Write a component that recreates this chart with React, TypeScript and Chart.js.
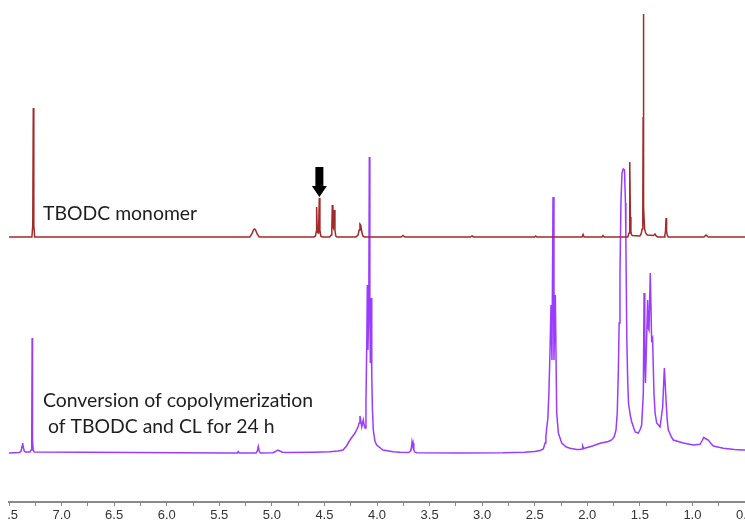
import React, { useEffect, useRef } from "react";
import { Chart, registerables } from "chart.js";

Chart.register(...registerables);

// x axis (chemical shift, ppm, reversed)
const axisMin = 0.5;
const axisMax = 7.5;
const tickStep = 0.25;

// vertical scale (arbitrary intensity units)
const yMax = 494;
const monomerOffset = 265;
const copolyOffset = 49;

// TBODC monomer spectrum
const monomerPpm = [
  7.5, 7.282, 7.274, 7.269, 7.264, 7.256,
  5.21, 5.19, 5.175, 5.165, 5.155, 5.14, 5.12,
  4.6, 4.585, 4.579, 4.574, 4.568, 4.561, 4.555, 4.549, 4.543, 4.535, 4.52,
  4.45, 4.436, 4.43, 4.425, 4.419, 4.415, 4.406, 4.4, 4.392, 4.38,
  4.2, 4.18, 4.17, 4.162, 4.155, 4.146, 4.135, 4.12,
  3.77, 3.752, 3.735,
  3.11, 3.096, 3.08,
  2.5, 2.49, 2.48,
  2.05, 2.04, 2.03,
  1.86, 1.85, 1.84,
  1.615, 1.603, 1.598, 1.594, 1.59, 1.585, 1.58, 1.572,
  1.5, 1.488, 1.478, 1.472, 1.469, 1.467, 1.465, 1.462, 1.455, 1.445, 1.43,
  1.37, 1.356, 1.345, 1.33,
  1.27, 1.262, 1.256, 1.251, 1.246, 1.24, 1.23,
  0.89, 0.871, 0.85,
  0.5,
];
const monomerInt = [
  0, 0, 12, 129, 12, 0,
  0, 3, 7, 8, 7, 3, 0,
  0, 1, 5, 30, 6, 4, 8, 39, 7, 1, 0,
  0, 2, 8, 32, 10, 9, 27, 7, 1, 0,
  0, 2, 7, 13, 12, 6, 1, 0,
  0, 1.5, 0,
  0, 1, 0,
  0, 1, 0,
  0, 2.5, 0,
  0, 1.5, 0,
  0, 4, 20, 75, 20, 5, 2.5, 1.5,
  1, 3, 8, 30, 120, 223, 120, 30, 8, 4, 2,
  1.5, 3, 1, 0,
  0, 2, 6, 19, 6, 2, 0,
  0, 2, 0,
  0,
];

// copolymerization (24 h) spectrum
const copolyPpm = [
  7.5, 7.4, 7.385, 7.375, 7.37, 7.364, 7.355, 7.345, 7.3, 7.29, 7.284, 7.28, 7.276, 7.27, 7.26,
  5.4, 5.33, 5.32, 5.31,
  5.15, 5.138, 5.129, 5.12, 5.11,
  4.99, 4.965, 4.945, 4.925, 4.9, 4.85,
  4.6, 4.45, 4.37, 4.323, 4.29, 4.257, 4.23, 4.209, 4.181, 4.17, 4.162, 4.155, 4.145, 4.13, 4.122,
  4.114, 4.105, 4.096, 4.092, 4.086, 4.078, 4.073, 4.068, 4.063, 4.057, 4.05, 4.044, 4.035, 4.02,
  4.003, 3.943, 3.848, 3.781,
  3.7, 3.68, 3.672, 3.667, 3.662, 3.657, 3.65, 3.64, 3.62,
  3.2, 2.8, 2.6, 2.5, 2.45, 2.418, 2.402, 2.394, 2.386, 2.375, 2.365, 2.355, 2.345, 2.336, 2.326,
  2.317, 2.304, 2.291, 2.275, 2.243, 2.2, 2.164, 2.1, 2.069, 2.05, 2.044, 2.035,
  1.95, 1.879, 1.8, 1.768, 1.745, 1.727, 1.715, 1.705, 1.697, 1.689, 1.68, 1.67, 1.6585, 1.646,
  1.637, 1.633, 1.624, 1.615, 1.608, 1.59, 1.577, 1.545, 1.515, 1.495, 1.483, 1.467, 1.46, 1.453,
  1.447, 1.441, 1.426, 1.42, 1.413, 1.401, 1.388, 1.379, 1.366, 1.355, 1.34, 1.308, 1.283, 1.267,
  1.251, 1.24, 1.229, 1.2, 1.182, 1.087, 0.992, 0.928, 0.91, 0.892, 0.87, 0.849, 0.82, 0.801,
  0.706, 0.6, 0.519, 0.5,
];
const copolyInt = [
  0, 0.5, 2, 7, 10, 6, 2, 1, 1, 3, 12, 115, 12, 3, 1,
  0, 0, 1.5, 0,
  0, 2, 6.5, 2, 0,
  0.3, 1.5, 3, 2, 0.8, 0.5,
  0.8, 1.3, 2, 3, 7, 13, 17, 20, 26, 30, 37, 33, 26, 33, 28,
  25, 50, 120, 168, 103, 150, 296, 150, 90, 155, 80, 45, 23, 12,
  8, 3, 1.3, 0.7,
  0.5, 2, 6, 11, 8, 10, 3, 0.8, 0.3,
  0, 0.2, 0.8, 1.5, 2.5, 4, 10, 16, 25, 35, 60, 100, 148, 93, 256,
  93, 158, 40, 20, 10, 6, 4.7, 3.5, 3.5, 4, 7, 4.5,
  7, 9.7, 11.5, 13, 16, 23, 40, 80, 130, 180, 250, 280, 284, 283,
  250, 213, 113, 70, 50, 37, 31, 21, 20, 24, 28, 60, 160, 90,
  70, 93, 153, 125, 123, 180, 113, 115, 60, 40, 30, 26, 46, 85,
  53, 33, 23, 16, 13, 10, 8, 8.7, 12, 15.7, 14, 13, 9, 7,
  4.7, 3.5, 3, 3,
];

const monomerLabel = "TBODC monomer";
const copolyLabel = ["Conversion of copolymerization", " of TBODC and CL for 24 h"];
const arrowPpm = 4.548;

const toPoints = (ppm: number[], inten: number[], offset: number) =>
  ppm.map((p, i) => ({ x: p, y: offset + inten[i] }));

const annotations = {
  id: "annotations",
  afterDatasetsDraw(chart: any) {
    const { ctx, scales } = chart;
    const x = scales.x;
    const y = scales.y;
    ctx.save();
    // arrow pointing at the 4.55 ppm signal
    const ax = x.getPixelForValue(arrowPpm);
    const tipY = y.getPixelForValue(monomerOffset + 40);
    const topY = y.getPixelForValue(monomerOffset + 70);
    const headH = 11;
    ctx.fillStyle = "#000";
    ctx.beginPath();
    ctx.moveTo(ax - 4, topY);
    ctx.lineTo(ax + 4, topY);
    ctx.lineTo(ax + 4, tipY - headH);
    ctx.lineTo(ax + 7.5, tipY - headH);
    ctx.lineTo(ax, tipY);
    ctx.lineTo(ax - 7.5, tipY - headH);
    ctx.lineTo(ax - 4, tipY - headH);
    ctx.closePath();
    ctx.fill();
    // spectrum labels
    ctx.font = "19.4px Lato";
    ctx.fillStyle = "#1e1e1e";
    ctx.textAlign = "left";
    ctx.textBaseline = "alphabetic";
    ctx.fillText(monomerLabel, x.getPixelForValue(7.177), y.getPixelForValue(282));
    ctx.fillText(copolyLabel[0], x.getPixelForValue(7.177), y.getPixelForValue(95));
    ctx.fillText(copolyLabel[1], x.getPixelForValue(7.177), y.getPixelForValue(69));
    ctx.restore();
  },
};

export default function App() {
  const ref = useRef<HTMLCanvasElement | null>(null);
  useEffect(() => {
    if (!ref.current) return;
    const chart = new Chart(ref.current, {
      type: "scatter",
      data: {
        datasets: [
          {
            label: "TBODC monomer",
            data: toPoints(monomerPpm, monomerInt, monomerOffset),
            showLine: true,
            borderColor: "#a32a2a",
            borderWidth: 1.5,
            pointRadius: 0,
            tension: 0,
          },
          {
            label: "copolymerization 24 h",
            data: toPoints(copolyPpm, copolyInt, copolyOffset),
            showLine: true,
            borderColor: "#9a3cff",
            borderWidth: 1.5,
            pointRadius: 0,
            tension: 0,
          },
        ],
      },
      options: {
        animation: false,
        responsive: false,
        layout: { padding: { left: 1, right: 0, top: 0, bottom: 0 } },
        plugins: { legend: { display: false }, tooltip: { enabled: false } },
        scales: {
          x: {
            type: "linear",
            reverse: true,
            min: axisMin,
            max: axisMax,
            afterFit: (axis: any) => {
              axis.paddingLeft = 0;
              axis.paddingRight = 0;
              axis.height = 22;
            },
            ticks: {
              stepSize: tickStep,
              autoSkip: false,
              maxRotation: 0,
              padding: 2,
              color: "#333333",
              font: { family: "'Liberation Sans', Arial, sans-serif", size: 13 },
              callback: (v: any) => {
                const n = Number(v);
                return Math.abs(n * 2 - Math.round(n * 2)) < 1e-6 ? n.toFixed(1) : "";
              },
            },
            grid: {
              drawOnChartArea: false,
              drawTicks: true,
              tickLength: 4,
              color: "#8a8a8a",
              lineWidth: 1,
            },
            border: { display: true, color: "#8a8a8a", width: 2 },
          },
          y: {
            display: false,
            min: 0,
            max: yMax,
          },
        },
      },
      plugins: [annotations],
    });
    return () => chart.destroy();
  }, []);
  return (
    <div style={{ position: "fixed", left: 8, top: 8, width: 737, height: 516 }}>
      <canvas ref={ref} width={737} height={516} style={{ display: "block" }} />
    </div>
  );
}
